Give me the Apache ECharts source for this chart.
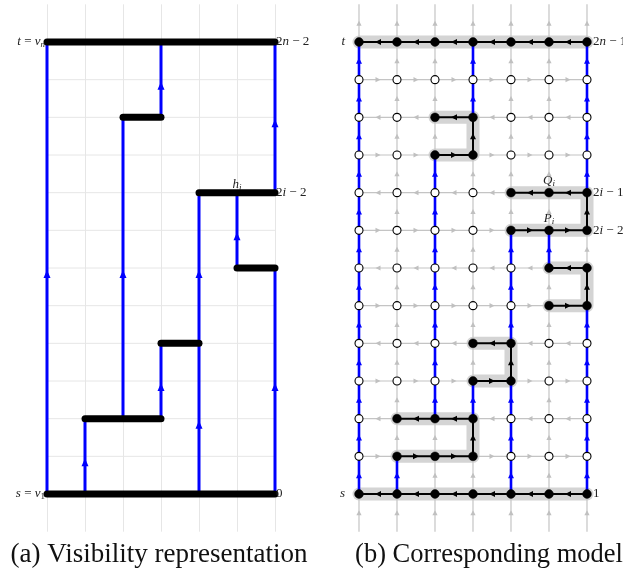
<!DOCTYPE html>
<html><head><meta charset="utf-8">
<script src="https://cdn.jsdelivr.net/npm/echarts@6/dist/echarts.min.js"></script>
<style>html,body{margin:0;padding:0;background:#fff}#c{width:623px;height:583px}</style>
</head><body><div id="c"></div>
<script>
// ---------- data ----------
const cols = [0, 1, 2, 3, 4, 5, 6];
const rows = [0, 1, 2, 3, 4, 5, 6, 7, 8, 9, 10, 11, 12];
// left: horizontal bars [row, colStart, colEnd]
const leftBars = [[0, 0, 6], [2, 1, 3], [4, 3, 4], [6, 5, 6], [8, 4, 6], [10, 2, 3], [12, 0, 6]];
// left: vertical visibility edges [col, rowStart, rowEnd]
const leftEdges = [[0, 0, 12], [1, 0, 2], [2, 2, 10], [3, 2, 4], [3, 10, 12], [4, 0, 4], [4, 4, 8], [5, 6, 8], [6, 0, 6], [6, 8, 12]];
// right: direction of horizontal lattice arrows per row (-1 = leftwards, 1 = rightwards)
const rowDirection = [-1, 1, -1, 1, -1, 1, -1, 1, -1, 1, -1, 1, -1];
// right: blue vertical edges [col, rowStart, rowEnd]
const rightBlue = [[0, 0, 12], [1, 0, 1], [2, 2, 9], [3, 2, 3], [3, 10, 12], [4, 0, 3], [4, 4, 7], [5, 6, 7], [6, 0, 5], [6, 8, 12]];
// right: black highlighted paths, node lists [col, row]
const rightPaths = [
  [[6, 12], [5, 12], [4, 12], [3, 12], [2, 12], [1, 12], [0, 12]],
  [[6, 0], [5, 0], [4, 0], [3, 0], [2, 0], [1, 0], [0, 0]],
  [[1, 1], [2, 1], [3, 1], [3, 2], [2, 2], [1, 2]],
  [[3, 3], [4, 3], [4, 4], [3, 4]],
  [[5, 5], [6, 5], [6, 6], [5, 6]],
  [[4, 7], [5, 7], [6, 7], [6, 8], [5, 8], [4, 8]],
  [[2, 9], [3, 9], [3, 10], [2, 10]]
];
const leftLabels = [[0, 12, 't = v_n', 'west'], [0, 0, 's = v_1', 'west'], [6, 12, '2n − 2', 'east'], [6, 8, '2i − 2', 'east'], [6, 0, '0', 'east'], [5, 8, 'h_i', 'north']];
const rightLabels = [[0, 12, 't', 'west'], [0, 0, 's', 'west'], [6, 12, '2n − 1', 'east'], [6, 8, '2i − 1', 'east'], [6, 7, '2i − 2', 'east'], [6, 0, '1', 'east'], [5, 8, 'Q_i', 'north'], [5, 7, 'P_i', 'north']];
const captions = ['(a) Visibility representation', '(b) Corresponding model'];

// ---------- derived structures ----------
const k = (a, b) => a[0] + ',' + a[1] + '|' + b[0] + ',' + b[1];
const used = new Set();
const blackEdges = [];
const pathNodes = new Set();
rightPaths.forEach(p => {
  p.forEach(n => pathNodes.add(n[0] + ',' + n[1]));
  for (let i = 0; i < p.length - 1; i++) {
    used.add(k(p[i], p[i + 1])); used.add(k(p[i + 1], p[i]));
    blackEdges.push([p[i][0], p[i][1], p[i + 1][0], p[i + 1][1]]);
  }
});
const blueEdges = [];
rightBlue.forEach(([c, r0, r1]) => {
  for (let r = r0; r < r1; r++) { used.add(k([c, r], [c, r + 1])); blueEdges.push([c, r, c, r + 1]); }
});
const grayEdges = [];
rows.forEach(r => {
  for (let c = 0; c < cols.length - 1; c++) {
    if (used.has(k([c, r], [c + 1, r]))) continue;
    grayEdges.push(rowDirection[r] > 0 ? [c, r, c + 1, r] : [c + 1, r, c, r]);
  }
});
cols.forEach(c => {
  for (let r = -1; r <= 12; r++) {
    if (used.has(k([c, r], [c, r + 1]))) continue;
    grayEdges.push([c, r, c, r + 1]);
  }
});
const nodes = [];
rows.forEach(r => cols.forEach(c => nodes.push([c, r, pathNodes.has(c + ',' + r) ? 1 : 0])));
const leftBarData = leftBars.map(([r, c0, c1]) => [c0, r, c1, r]);
const leftEdgeData = leftEdges.map(([c, r0, r1]) => [c, r0, c, r1]);
const leftGridH = rows.map(r => [0, r, 6, r]);

// ---------- rendering helpers ----------
const mctx = document.createElement('canvas').getContext('2d');
const SERIF = '"Liberation Serif", "DejaVu Serif", serif';
function measure(t, font) { mctx.font = font; return mctx.measureText(t).width; }
function parseMath(s) {
  const parts = [];
  for (let i = 0; i < s.length; i++) {
    const ch = s[i];
    if (ch === '_') { parts.push({ t: s[i + 1], it: /[a-zA-Z]/.test(s[i + 1]), sub: true }); i++; continue; }
    parts.push({ t: ch, it: /[a-zA-Z]/.test(ch), sub: false });
  }
  return parts;
}
function arrowHead(tip, d, len, half, color) {
  const bx = tip[0] - d[0] * len, by = tip[1] - d[1] * len;
  const nx = -d[1], ny = d[0];
  return { type: 'polygon', shape: { points: [tip, [bx + nx * half, by + ny * half], [bx - nx * half, by - ny * half]] }, style: { fill: color } };
}
function segRenderer(o) {
  return function (params, api) {
    const p1 = api.coord([api.value(0), api.value(1)]);
    const p2 = api.coord([api.value(2), api.value(3)]);
    const ch = [{ type: 'line', shape: { x1: p1[0], y1: p1[1], x2: p2[0], y2: p2[1] }, style: { stroke: o.color, lineWidth: o.width, lineCap: o.cap || 'butt' } }];
    if (o.arrow) {
      const dx = p2[0] - p1[0], dy = p2[1] - p1[1], L = Math.hypot(dx, dy);
      const d = [dx / L, dy / L];
      const cx = (p1[0] + p2[0]) / 2 + d[0] * o.shift, cy = (p1[1] + p2[1]) / 2 + d[1] * o.shift;
      const tip = [cx + d[0] * o.alen / 2, cy + d[1] * o.alen / 2];
      ch.push(arrowHead(tip, d, o.alen, o.ahalf, o.acolor || o.color));
    }
    return { type: 'group', children: ch };
  };
}
function haloRenderer(params, api) {
  const p = rightPaths[api.value(0)];
  const pts = p.map(n => api.coord(n));
  return { type: 'polyline', shape: { points: pts }, style: { stroke: '#d4d4d4', lineWidth: 13, lineCap: 'round', lineJoin: 'round', fill: null } };
}
function nodeRenderer(params, api) {
  const p = api.coord([api.value(0), api.value(1)]);
  const filled = api.value(2) === 1;
  return { type: 'circle', shape: { cx: p[0], cy: p[1], r: filled ? 4.4 : 4 }, style: { fill: filled ? '#000' : '#fff', stroke: '#000', lineWidth: filled ? 0.5 : 1.1 } };
}
function labelRenderer(labels, gaps) {
  return function (params, api) {
    const L = labels[api.value(0)];
    const p = api.coord([L[0], L[1]]);
    const parts = parseMath(L[2]);
    const fonts = parts.map(pt => (pt.it ? 'italic ' : '') + (pt.sub ? '9px ' : '13px ') + SERIF);
    const widths = parts.map((pt, i) => measure(pt.t, fonts[i]));
    const total = widths.reduce((a, b) => a + b, 0);
    let x0, y = p[1];
    if (L[3] === 'west') x0 = p[0] - gaps.west - total;
    else if (L[3] === 'east') x0 = p[0] + gaps.east;
    else { x0 = p[0] - total / 2; y = p[1] - gaps.north; }
    let cx = x0;
    const ch = parts.map((pt, i) => {
      const el = { type: 'text', style: { text: pt.t, x: cx, y: y + (pt.sub ? 3 : 0), font: fonts[i], fill: '#222', textAlign: 'left', textVerticalAlign: 'middle', align: 'left', verticalAlign: 'middle' } };
      cx += widths[i];
      return el;
    });
    return { type: 'group', children: ch };
  };
}

// ---------- chart ----------
const ROW = (494 - 42) / 12;
const gridTop = 42 - ROW, gridH = ROW * 14;
const chart = echarts.init(document.getElementById('c'), null, { renderer: 'canvas' });
const axisX = (gi, split) => ({ type: 'value', gridIndex: gi, min: 0, max: 6, interval: 1, axisLine: { show: false }, axisTick: { show: false }, axisLabel: { show: false }, splitLine: { show: split, lineStyle: { color: '#e6e6e6', width: 1 } } });
const axisY = gi => ({ type: 'value', gridIndex: gi, min: -1, max: 13, interval: 1, axisLine: { show: false }, axisTick: { show: false }, axisLabel: { show: false }, splitLine: { show: false } });
const cs = (gi, data, render, z) => ({ type: 'custom', xAxisIndex: gi, yAxisIndex: gi, data: data, renderItem: render, z: z, silent: true, animation: false, clip: false });

chart.setOption({
  animation: false,
  grid: [
    { left: 47, width: 228, top: gridTop, height: gridH },
    { left: 359, width: 228, top: gridTop, height: gridH }
  ],
  xAxis: [axisX(0, true), axisX(1, false)],
  yAxis: [axisY(0), axisY(1)],
  graphic: [
    { type: 'text', x: 159, y: 555, style: { text: captions[0], font: '27px ' + SERIF, fill: '#111', textAlign: 'center', textVerticalAlign: 'middle', align: 'center', verticalAlign: 'middle' } },
    { type: 'text', x: 489, y: 555, style: { text: captions[1], font: '26.5px ' + SERIF, fill: '#111', textAlign: 'center', textVerticalAlign: 'middle', align: 'center', verticalAlign: 'middle' } }
  ],
  series: [
    cs(0, leftGridH, segRenderer({ color: '#e6e6e6', width: 1 }), 1),
    cs(0, leftEdgeData, segRenderer({ color: '#0000ff', width: 3, arrow: true, shift: -6, alen: 8, ahalf: 3.5 }), 3),
    cs(0, leftBarData, segRenderer({ color: '#000', width: 7, cap: 'round' }), 4),
    cs(0, leftLabels.map((l, i) => [i]), labelRenderer(leftLabels, { west: 2, east: 1, north: 8 }), 6),
    cs(1, rightPaths.map((p, i) => [i]), haloRenderer, 1),
    cs(1, grayEdges, segRenderer({ color: '#c4c4c4', width: 1.2, arrow: true, shift: 0, alen: 5, ahalf: 2.6, acolor: '#c0c0c0' }), 2),
    cs(1, blueEdges, segRenderer({ color: '#0000ff', width: 2.6, arrow: true, shift: 0, alen: 6, ahalf: 3 }), 3),
    cs(1, blackEdges, segRenderer({ color: '#000', width: 2, arrow: true, shift: 0, alen: 6, ahalf: 3 }), 3),
    cs(1, nodes, nodeRenderer, 5),
    cs(1, rightLabels.map((l, i) => [i]), labelRenderer(rightLabels, { west: 14, east: 6, north: 12 }), 6)
  ]
});
</script></body></html>
